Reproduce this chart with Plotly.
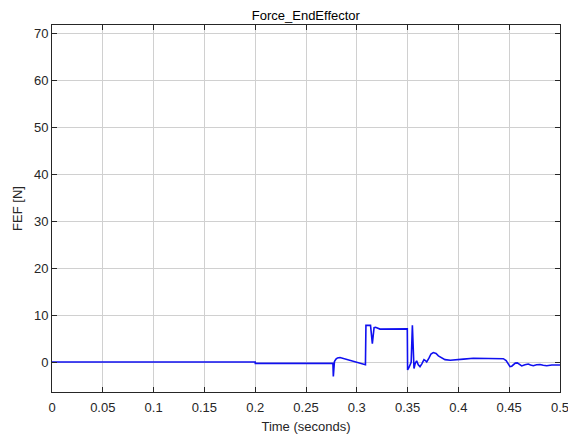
import plotly.graph_objects as go

time_s = [0.0, 0.2, 0.2001, 0.2765, 0.2769, 0.2772, 0.278, 0.2795, 0.281, 0.2835,
          0.288, 0.295, 0.302, 0.3085, 0.309, 0.3135, 0.3153, 0.3162, 0.317, 0.3185,
          0.321, 0.3228, 0.3497, 0.3500, 0.3515, 0.3535, 0.3547, 0.3563, 0.3575,
          0.3589, 0.3605, 0.3622, 0.364, 0.3661, 0.3675, 0.3688, 0.371, 0.373,
          0.3753, 0.378, 0.3803, 0.383, 0.3868, 0.392, 0.3983, 0.405, 0.4147,
          0.425, 0.4442, 0.447, 0.4508, 0.4525, 0.454, 0.456, 0.458, 0.4603,
          0.4623, 0.4655, 0.4688, 0.471, 0.4737, 0.477, 0.4803, 0.4835, 0.4869,
          0.492, 0.4983, 0.5]
fef_n = [0.1, 0.1, -0.2, -0.2, -3.0, -1.5, 0.2, 0.7, 0.95, 1.05,
         0.8, 0.3, -0.1, -0.5, 7.9, 7.9, 4.0, 6.5, 7.4, 7.5,
         7.2, 7.1, 7.15, -1.6, -1.0, 0.0, 7.9, -1.3, -0.2,
         0.35, -0.5, -0.9, -0.3, 0.6, 0.4, 0.1, 0.9, 1.8,
         2.1, 1.9, 1.4, 1.0, 0.6, 0.45, 0.5, 0.7, 0.9,
         0.85, 0.8, 0.4, -0.9, -0.8, -0.55, -0.15, -0.1, -0.5,
         -0.75, -0.5, -0.35, -0.55, -0.7, -0.5, -0.45, -0.6, -0.7,
         -0.55, -0.55, -0.55]

x_ticks = [0, 0.05, 0.1, 0.15, 0.2, 0.25, 0.3, 0.35, 0.4, 0.45, 0.5]
x_labels = ["0", "0.05", "0.1", "0.15", "0.2", "0.25", "0.3", "0.35", "0.4", "0.45", "0.5"]
y_ticks = [0, 10, 20, 30, 40, 50, 60, 70]

fig = go.Figure()
fig.add_trace(go.Scatter(x=time_s, y=fef_n, mode="lines",
                         line=dict(color="#1010f0", width=1.6), showlegend=False))

font = "Liberation Sans, Arial, sans-serif"
axis_common = dict(showline=True, linecolor="#262626", linewidth=1, mirror="ticks",
                   ticks="inside", ticklen=5, tickcolor="#262626",
                   showgrid=True, gridcolor="#d0d0d0", gridwidth=1, zeroline=False,
                   ticklabeloverflow="allow", automargin=False,
                   tickfont=dict(family=font, size=13, color="#262626"))

fig.update_layout(
    width=568, height=434,
    margin=dict(l=52, r=8, t=25, b=42),
    paper_bgcolor="white", plot_bgcolor="white",
    title=dict(text="Force_EndEffector", x=0.5385, xanchor="center", y=0.965, yanchor="middle",
               font=dict(family=font, size=13, color="black")),
    xaxis=dict(range=[0, 0.5], tickvals=x_ticks, ticktext=x_labels, ticklabelstandoff=3,
               title=dict(text="Time (seconds)", font=dict(family=font, size=13, color="#262626"), standoff=8),
               **axis_common),
    yaxis=dict(range=[-6.3, 71.9], tickvals=y_ticks,
               title=dict(text="FEF [N]", font=dict(family=font, size=13, color="#262626"), standoff=8),
               **axis_common),
)

fig.write_html("out.html")
